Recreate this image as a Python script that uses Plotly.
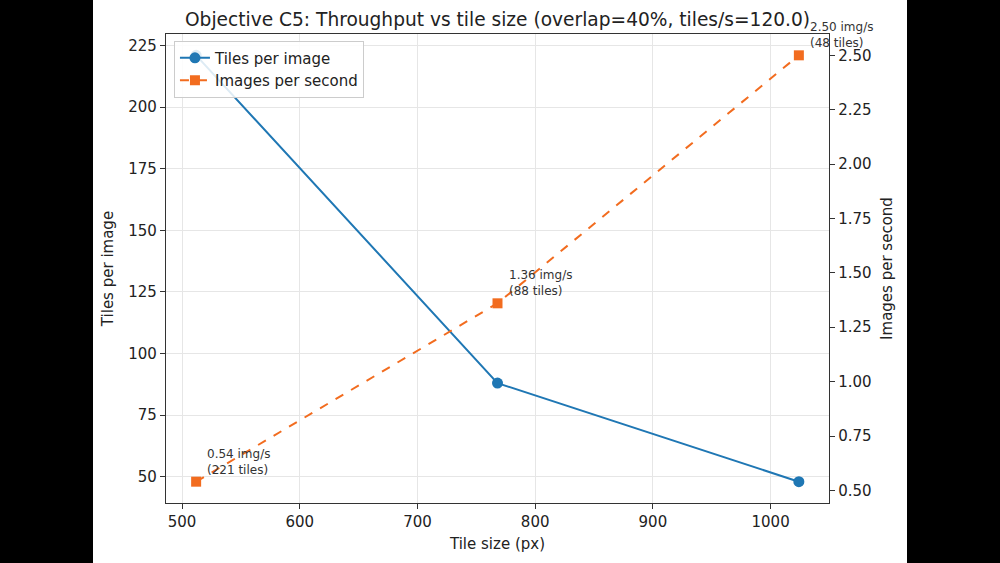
import plotly.graph_objects as go

tile_size = [512, 768, 1024]
tiles_per_image = [221, 88, 48]
images_per_second = [0.54, 1.36, 2.50]
ann_labels = ["0.54 img/s<br>(221 tiles)", "1.36 img/s<br>(88 tiles)", "2.50 img/s<br>(48 tiles)"]

x_ticks = [500, 600, 700, 800, 900, 1000]
y1_ticks = [50, 75, 100, 125, 150, 175, 200, 225]
y2_ticks = [0.50, 0.75, 1.00, 1.25, 1.50, 1.75, 2.00, 2.25, 2.50]

BLUE = "#1f77b4"
ORANGE = "#f26c1f"
FONT = "DejaVu Sans"
AX = "#333333"

fig = go.Figure()
fig.add_trace(go.Scatter(
    x=tile_size, y=tiles_per_image, name="Tiles per image",
    mode="lines+markers", line=dict(color=BLUE, width=2),
    marker=dict(symbol="circle", size=11, color=BLUE), yaxis="y"))
fig.add_trace(go.Scatter(
    x=tile_size, y=images_per_second, name="Images per second",
    mode="lines+markers", line=dict(color=ORANGE, width=2, dash="dash"),
    marker=dict(symbol="square", size=10, color=ORANGE), yaxis="y2"))

for xv, yv, t in zip(tile_size, images_per_second, ann_labels):
    fig.add_annotation(x=xv, y=yv, xref="x", yref="y2", text=t, showarrow=False,
                       xanchor="left", yanchor="bottom", align="left",
                       xshift=9, yshift=3, font=dict(family=FONT, size=12, color="#333333"))

pad = 0.05
xr = (max(tile_size) - min(tile_size)) * pad
y1r = (max(tiles_per_image) - min(tiles_per_image)) * pad
y2r = (max(images_per_second) - min(images_per_second)) * pad

axis_common = dict(showline=True, linecolor=AX, linewidth=1.3, ticks="outside",
                   ticklen=5, tickwidth=1.2, tickcolor=AX,
                   tickfont=dict(family=FONT, size=15, color="#222222"),
                   zeroline=False)

fig.update_layout(
    width=1000, height=563,
    margin=dict(l=166, r=171, t=34, b=60),
    paper_bgcolor="black", plot_bgcolor="white",
    font=dict(family=FONT, color="#222222"),
    title=dict(text="Objective C5: Throughput vs tile size (overlap=40%, tiles/s=120.0)",
               x=0.5, xanchor="center", xref="paper", y=0.966, yanchor="middle",
               font=dict(family=FONT, size=18.6, color="#222222")),
    xaxis=dict(range=[min(tile_size) - xr, max(tile_size) + xr], tickvals=x_ticks,
               showgrid=True, gridcolor="#e6e6e6", gridwidth=1, mirror=True,
               title=dict(text="Tile size (px)", font=dict(family=FONT, size=15, color="#222222"), standoff=8),
               **axis_common),
    yaxis=dict(range=[min(tiles_per_image) - y1r, max(tiles_per_image) + y1r], tickvals=y1_ticks,
               showgrid=True, gridcolor="#e6e6e6", gridwidth=1,
               title=dict(text="Tiles per image", font=dict(family=FONT, size=15, color="#222222"), standoff=10),
               **axis_common),
    yaxis2=dict(range=[min(images_per_second) - y2r, max(images_per_second) + y2r], tickvals=y2_ticks,
                tickformat=".2f", overlaying="y", side="right", showgrid=False,
                title=dict(text="Images per second", font=dict(family=FONT, size=15, color="#222222"), standoff=10),
                **axis_common),
    legend=dict(x=0.012, y=0.986, xanchor="left", yanchor="top",
                bgcolor="rgba(255,255,255,0.85)", bordercolor="#cccccc", borderwidth=1,
                font=dict(family=FONT, size=15, color="#222222")),
    showlegend=True,
    shapes=[dict(type="rect", xref="paper", yref="paper", x0=(93 - 166) / 663, x1=(907 - 166) / 663,
                 y0=-60 / 469, y1=503 / 469 + 0.01, fillcolor="white", line=dict(width=0), layer="below")],
)

fig.write_html("out.html")
